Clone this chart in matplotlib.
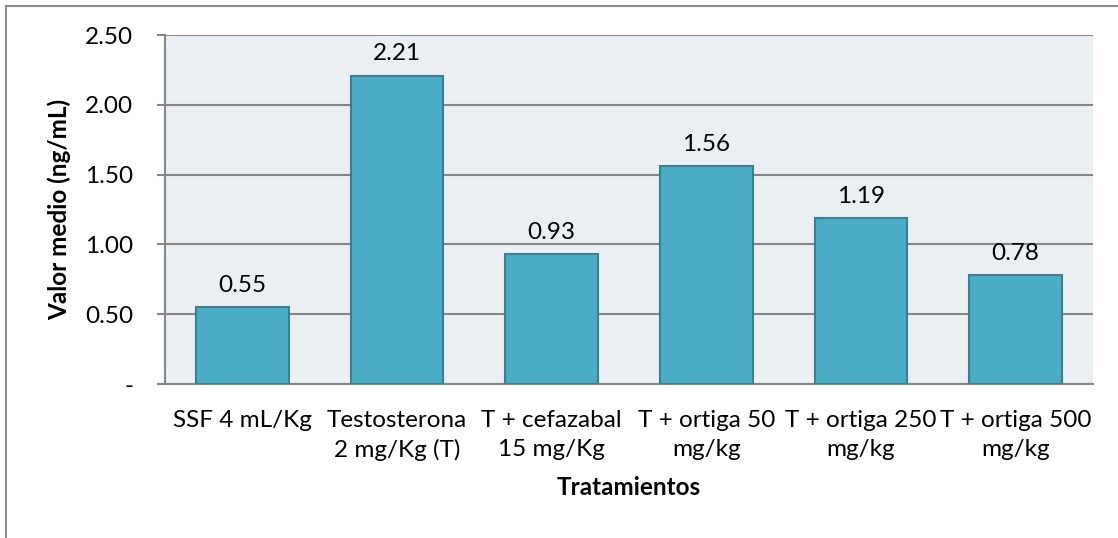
import matplotlib.pyplot as plt
from matplotlib.lines import Line2D

categories = ["SSF 4 mL/Kg", "Testosterona\n2 mg/Kg (T)", "T + cefazabal\n15 mg/Kg",
              "T + ortiga 50\nmg/kg", "T + ortiga 250\nmg/kg", "T + ortiga 500\nmg/kg"]
values = [0.55, 2.21, 0.93, 1.56, 1.19, 0.78]
yticks = [0, 0.5, 1.0, 1.5, 2.0, 2.5]
ytick_labels = ["-", "0.50", "1.00", "1.50", "2.00", "2.50"]

plt.rcParams['font.family'] = ['Lato', 'DejaVu Sans']
fs = 17.5

fig = plt.figure(figsize=(11.18, 5.38), dpi=100)
ax = fig.add_axes([0.1476, 0.2862, 0.9776 - 0.1476, 0.9349 - 0.2862])
ax.set_facecolor('#E9EFF3')

x = list(range(len(categories)))
bars = ax.bar(x, values, width=0.6, color='#4BACC6', edgecolor='#3A7F92', linewidth=1.5, zorder=3)
for xi, v in zip(x, values):
    ax.annotate(f"{v:.2f}", (xi, v), xytext=(0, 11), textcoords='offset points',
                ha='center', va='baseline', fontsize=fs)

ax.set_xlim(-0.5, len(categories) - 0.5)
ax.set_ylim(0, 2.5)
ax.set_yticks(yticks)
ax.set_yticklabels(ytick_labels, fontsize=fs)
ax.set_xticks(x)
ax.set_xticklabels(categories, fontsize=fs, linespacing=1.42)
ax.tick_params(axis='x', length=0, pad=19)
ax.tick_params(axis='y', length=6, width=1.5, color='#868686', pad=17)
ax.grid(axis='y', color='#868686', linewidth=1.5, zorder=1)

for side in ['top', 'right']:
    ax.spines[side].set_visible(False)
for side in ['left', 'bottom']:
    ax.spines[side].set_color('#868686')
    ax.spines[side].set_linewidth(1.5)

ax.set_ylabel("Valor medio (ng/mL)", fontsize=fs, fontweight='bold')
ax.yaxis.set_label_coords(-0.101, 0.5)
ax.set_xlabel("Tratamientos", fontsize=fs, fontweight='bold', labelpad=11)

# outer chart border (top and left visible)
fig.add_artist(Line2D([6 / 1118, 1], [1 - 6 / 538, 1 - 6 / 538], color='#8C8C8C', linewidth=1.5))
fig.add_artist(Line2D([6 / 1118, 6 / 1118], [0, 1 - 6 / 538], color='#8C8C8C', linewidth=1.5))

fig.savefig("out.png", dpi=100)
